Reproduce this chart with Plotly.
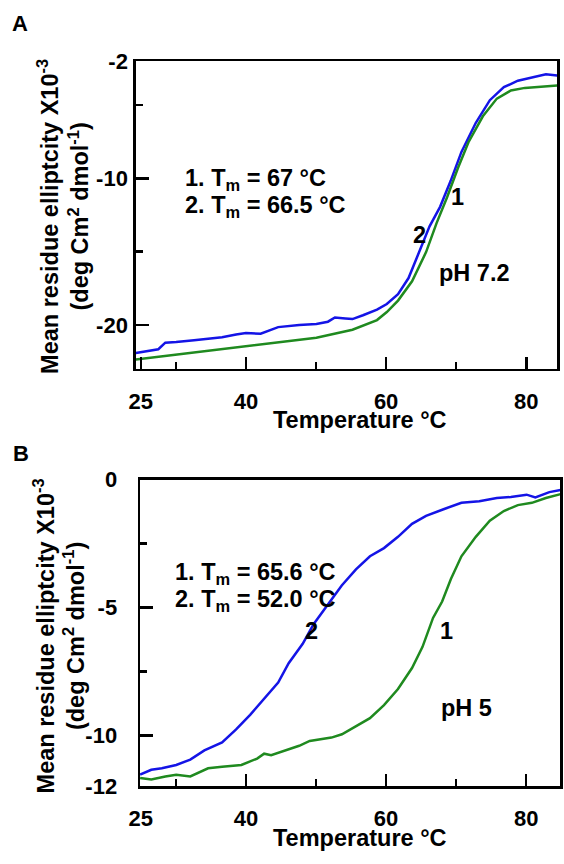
import plotly.graph_objects as go

# ---------------- data ----------------
# Panel A, pH 7.2
a_blue_T = [24.3, 26.3, 27.5, 28.5, 30.05, 32.6, 36.6, 38.6, 40.0, 42.1, 44.6, 47.6, 50.05, 51.7, 52.7,
            54.2, 55.2, 56.7, 58.7, 60.1, 61.7, 63.2, 64.7, 66.2, 67.7, 69.2, 70.75, 72.8, 74.8, 76.8,
            78.8, 80.8, 82.8, 84.4]
a_blue_v = [-21.92, -21.77, -21.66, -21.21, -21.17, -21.04, -20.84, -20.66, -20.55, -20.6, -20.15, -20.0,
            -19.93, -19.78, -19.49, -19.56, -19.6, -19.34, -18.96, -18.57, -17.9, -16.8, -15.03, -13.27,
            -11.94, -10.18, -8.19, -6.2, -4.66, -3.77, -3.33, -3.11, -2.89, -2.98]
a_green_T = [24.3, 40.0, 50.05, 55.2, 58.7, 60.1, 61.7, 63.7, 65.7, 67.2, 68.7, 70.25, 71.75, 73.8, 75.8,
             77.8, 79.8, 84.4]
a_green_v = [-22.36, -21.43, -20.88, -20.33, -19.67, -19.12, -18.34, -17.02, -15.03, -13.05, -11.28, -9.29,
             -7.53, -5.76, -4.55, -4.0, -3.82, -3.66]

# Panel B, pH 5
b_blue_T = [24.9, 26.5, 28.0, 30.05, 32.06, 34.07, 36.6, 38.6, 40.6, 42.6, 44.6, 46.1, 48.1, 49.65, 51.66,
            53.67, 55.7, 57.7, 59.7, 61.7, 63.7, 65.7, 68.2, 70.75, 73.3, 75.8, 77.8, 80.05, 81.3, 83.3, 84.9]
b_blue_v = [-11.54, -11.35, -11.29, -11.16, -10.95, -10.59, -10.28, -9.77, -9.2, -8.57, -7.94, -7.18, -6.42,
            -5.66, -4.9, -4.14, -3.51, -3.0, -2.68, -2.24, -1.73, -1.42, -1.16, -0.91, -0.85, -0.72, -0.68,
            -0.59, -0.7, -0.49, -0.41]
b_green_T = [24.9, 26.5, 28.5, 30.05, 32.06, 34.6, 36.6, 39.35, 41.6, 42.6, 43.6, 45.6, 47.6, 49.1, 50.65,
             52.2, 53.7, 55.7, 57.7, 59.7, 61.7, 63.7, 65.2, 66.7, 68.0, 69.25, 70.75, 72.8, 74.8, 76.8,
             78.8, 80.8, 82.8, 84.9]
b_green_v = [-11.67, -11.73, -11.61, -11.54, -11.61, -11.29, -11.23, -11.16, -10.91, -10.72, -10.78, -10.59,
             -10.41, -10.22, -10.15, -10.09, -9.96, -9.65, -9.33, -8.82, -8.19, -7.37, -6.54, -5.41, -4.77,
             -3.89, -3.0, -2.24, -1.61, -1.23, -1.0, -0.91, -0.72, -0.57]

x_major = [25, 40, 60, 80]
x_major_text = ["25", "40", "60", "80"]
x_minor = [30, 50, 70]
a_y_major = [-2, -10, -20]
a_y_major_text = ["-2", "-10", "-20"]
a_y_minor = [-5, -15]
b_y_major = [0, -5, -10, -12]
b_y_major_text = ["0", "-5", "-10", "-12"]
b_y_minor = [-2.5, -7.5]

W, H = 564, 864
BLUE = "#1414e6"
GREEN = "#1f8a1f"
FONT = "Liberation Sans, Arial, sans-serif"
FS = 23.5
TFS = 22


def px(x):
    return x / W


def py(y):
    return 1 - y / H


fig = go.Figure()
fig.add_trace(go.Scatter(x=a_blue_T, y=a_blue_v, mode="lines", line=dict(color=BLUE, width=2.5),
                         xaxis="x", yaxis="y", showlegend=False, hoverinfo="skip"))
fig.add_trace(go.Scatter(x=a_green_T, y=a_green_v, mode="lines", line=dict(color=GREEN, width=2.5),
                         xaxis="x", yaxis="y", showlegend=False, hoverinfo="skip"))
fig.add_trace(go.Scatter(x=b_blue_T, y=b_blue_v, mode="lines", line=dict(color=BLUE, width=2.5),
                         xaxis="x2", yaxis="y2", showlegend=False, hoverinfo="skip"))
fig.add_trace(go.Scatter(x=b_green_T, y=b_green_v, mode="lines", line=dict(color=GREEN, width=2.5),
                         xaxis="x2", yaxis="y2", showlegend=False, hoverinfo="skip"))

tickfont = dict(family=FONT, size=TFS, color="black", weight="bold")


def xaxis(domain, rng, anchor):
    return dict(domain=domain, range=rng, anchor=anchor, showline=True, mirror=True, linecolor="black",
                linewidth=2.5, showgrid=False, zeroline=False, ticks="inside", ticklen=12, tickwidth=2.5,
                tickcolor="black", tickmode="array", tickvals=x_major, ticktext=x_major_text,
                tickfont=tickfont, ticklabelstandoff=11,
                minor=dict(tickmode="array", tickvals=x_minor, ticks="inside", ticklen=7, tickwidth=2.5,
                           tickcolor="black", showgrid=False))


def yaxis(domain, rng, anchor, vals, text, minor, standoff):
    return dict(domain=domain, range=rng, anchor=anchor, showline=True, mirror=True, linecolor="black",
                linewidth=2.5, showgrid=False, zeroline=False, ticks="inside", ticklen=13, tickwidth=2.5,
                tickcolor="black", tickmode="array", tickvals=vals, ticktext=text,
                tickfont=tickfont, ticklabelstandoff=standoff,
                minor=dict(tickmode="array", tickvals=minor, ticks="inside", ticklen=7, tickwidth=2.5,
                           tickcolor="black", showgrid=False))


fig.update_layout(
    width=W, height=H, margin=dict(l=0, r=0, t=0, b=0),
    paper_bgcolor="white", plot_bgcolor="white",
    xaxis=xaxis([px(127.3), px(557)], [24.29, 84.4], "y"),
    yaxis=yaxis([py(367.5), py(50.7)], [-23, -2], "x", a_y_major, a_y_major_text, a_y_minor, 1),
    xaxis2=xaxis([px(131.6), px(560.3)], [24.89, 84.87], "y2"),
    yaxis2=yaxis([py(797.5), py(481.5)], [-12, 0], "x2", b_y_major, b_y_major_text, b_y_minor, 16),
)

tf = dict(family=FONT, size=FS, color="black", weight="bold")
ytitle = "Mean residue elliptcity X10<sup>-3</sup><br>(deg Cm<sup>2</sup> dmol<sup>-1</sup>)"


def ann(text, x, y, xanchor="center", yanchor="middle", angle=0, size=FS):
    f = dict(tf)
    f["size"] = size
    fig.add_annotation(text=text, x=px(x), y=py(y), xref="paper", yref="paper", showarrow=False,
                       xanchor=xanchor, yanchor=yanchor, textangle=angle, font=f, align="center")


# panel letters
ann("A", 9, 12, size=22)
ann("B", 10, 455, size=22)
# y titles
ann(ytitle, 53, 210, angle=-90)
ann(ytitle, 49, 643, angle=-90)
# x titles
ann("Temperature °C", 355.5, 420)
ann("Temperature °C", 355.5, 851)
# panel A texts
ann("1. T<sub>m</sub> = 67 °C", 175.8, 172, xanchor="left")
ann("2. T<sub>m</sub> = 66.5 °C", 175.8, 200, xanchor="left")
ann("1", 455, 190)
ann("2", 417, 230)
ann("pH 7.2", 472.6, 269)
# panel B texts
ann("1. T<sub>m</sub> = 65.6 °C", 165, 578, xanchor="left")
ann("2. T<sub>m</sub> = 52.0 °C", 165, 606, xanchor="left")
ann("2", 306.7, 637)
ann("1", 444, 637)
ann("pH 5", 464.5, 717)

fig.write_html(
    "out.html",
    config={"displayModeBar": False, "staticPlot": True},
    post_script="document.body.style.margin='0';document.body.style.padding='0';"
                "document.documentElement.style.overflow='hidden';",
)
